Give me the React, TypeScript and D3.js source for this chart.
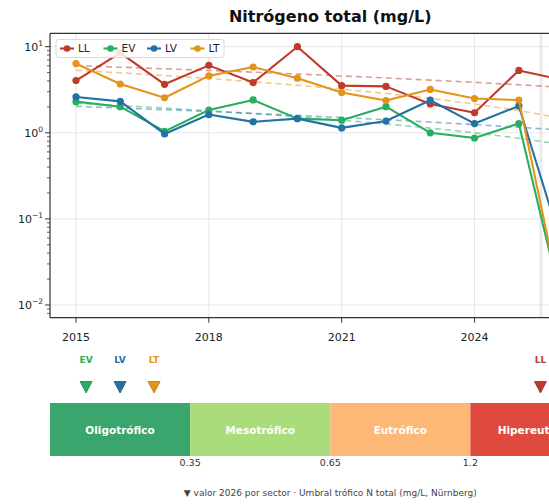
import React from 'react';
import * as d3 from 'd3';

const years = [2015, 2016, 2017, 2018, 2019, 2020, 2021, 2022, 2023, 2024, 2025, 2026];
const sectors = ['LL', 'EV', 'LV', 'LT'];
const LL = [4.04, 8.5, 3.66, 6.07, 3.83, 10.0, 3.53, 3.46, 2.16, 1.71, 5.3, 4.1];
const EV = [2.3, 2.01, 1.04, 1.84, 2.41, 1.46, 1.4, 2.01, 1.0, 0.87, 1.28, 0.009];
const LV = [2.61, 2.32, 0.97, 1.63, 1.34, 1.46, 1.14, 1.37, 2.39, 1.28, 2.05, 0.044];
const LT = [6.36, 3.69, 2.55, 4.58, 5.81, 4.31, 2.94, 2.37, 3.19, 2.5, 2.4, 0.0085];
const seriesValues = [LL, EV, LV, LT];
const colors = ['#c0392b', '#27ae60', '#2471a3', '#e39419'];
const darkColors = ['#922b21', '#1e8449', '#1a5276', '#b9770e'];
const xTicks = [2015, 2018, 2021, 2024];
const yTicks = [0.01, 0.1, 1, 10];
const yTickExp = ['\u22122', '\u22121', '0', '1'];
const bands = ['Oligotrófico', 'Mesotrófico', 'Eutrófico', 'Hipereutrófico'];
const thresholds = [0.35, 0.65, 1.2];
const bandColors = ['#3aa56c', '#abdc7c', '#fdb877', '#df4a3f'];
const markerYear = 2025.5;
const title = 'Nitrógeno total (mg/L)';
const footer = '\u25BC valor 2026 por sector \u00B7 Umbral trófico N total (mg/L, Nürnberg)';

const FONT = 'DejaVu Sans, sans-serif';

export default function App() {
  const W = 549;
  const H = 504;
  const m = { left: 50, right: 610.5, top: 33.3, bottom: 317.7 };
  const x = d3.scaleLinear().domain([2014.413, 2027.07]).range([m.left, m.right]);
  const y = d3.scaleLog().domain([0.00712, 14.31]).range([m.bottom, m.top]);

  const line = d3
    .line<[number, number]>()
    .defined((d) => d[1] > 0)
    .x((d) => x(d[0]))
    .y((d) => y(d[1]));

  const trend = (vals: number[]) => {
    const mx = d3.mean(years) as number;
    const my = d3.mean(vals) as number;
    const sxy = d3.sum(years, (yr, i) => (yr - mx) * (vals[i] - my));
    const sxx = d3.sum(years, (yr) => (yr - mx) * (yr - mx));
    const b = sxy / sxx;
    return years.map((yr) => [yr, my + b * (yr - mx)] as [number, number]);
  };

  const minorTicks: number[] = [];
  for (let e = -3; e <= 1; e++) {
    for (let k = 2; k <= 9; k++) {
      const v = k * Math.pow(10, e);
      if (v >= 0.00712 && v <= 14.31) minorTicks.push(v);
    }
  }

  // bottom panel
  const band = d3.scaleBand<string>().domain(bands).range([m.left, m.right]);
  const bandTop = 403;
  const bandH = 53;
  const bandIndex = (v: number) => d3.bisectRight(thresholds, v);
  const last = seriesValues.map((s) => s[s.length - 1]);
  const groups: number[][] = bands.map(() => []);
  last.forEach((v, i) => groups[bandIndex(v)].push(i));
  const markers: { i: number; cx: number }[] = [];
  groups.forEach((g, bi) => {
    const c = (band(bands[bi]) as number) + band.bandwidth() / 2;
    g.forEach((si, k) => markers.push({ i: si, cx: c + (k - (g.length - 1) / 2) * 34 }));
  });

  const legendX = 56;
  const legendItemW = 43.5;

  return (
    <svg
      width={W}
      height={H}
      style={{ position: 'absolute', left: 0, top: 0, background: '#fff' }}
      fontFamily={FONT}
    >
      <defs>
        <clipPath id="plotclip">
          <rect x={m.left} y={m.top} width={m.right - m.left} height={m.bottom - m.top} />
        </clipPath>
      </defs>
      <rect x={0} y={0} width={W} height={H} fill="#fff" />
      <text x={(m.left + m.right) / 2} y={22} textAnchor="middle" fontSize={16} fontWeight="bold" fill="#111">
        {title}
      </text>

      {/* grid */}
      <g stroke="#e4e4e4" strokeWidth={0.9}>
        {xTicks.map((t) => (
          <line key={'gx' + t} x1={x(t)} x2={x(t)} y1={m.top} y2={m.bottom} />
        ))}
        {yTicks.map((t) => (
          <line key={'gy' + t} x1={m.left} x2={m.right} y1={y(t)} y2={y(t)} />
        ))}
      </g>
      <line x1={x(markerYear)} x2={x(markerYear)} y1={m.top} y2={m.bottom} stroke="#d8d8d8" strokeWidth={3} opacity={0.5} />

      <g clipPath="url(#plotclip)">
        {seriesValues.map((vals, i) => (
          <path
            key={'t' + i}
            d={line(trend(vals)) || ''}
            fill="none"
            stroke={colors[i]}
            strokeOpacity={0.5}
            strokeWidth={1.6}
            strokeDasharray="6,4"
          />
        ))}
        {seriesValues.map((vals, i) => (
          <g key={'s' + i}>
            <path
              d={line(years.map((yr, j) => [yr, vals[j]] as [number, number])) || ''}
              fill="none"
              stroke={colors[i]}
              strokeWidth={2.1}
              strokeLinejoin="round"
            />
            {years.map((yr, j) => (
              <circle key={j} cx={x(yr)} cy={y(vals[j])} r={3.6} fill={colors[i]} />
            ))}
          </g>
        ))}
      </g>

      {/* axes frame */}
      <g stroke="#333" strokeWidth={1.2} fill="none">
        <line x1={m.left} x2={m.left} y1={m.top} y2={m.bottom} />
        <line x1={m.left} x2={m.right} y1={m.bottom} y2={m.bottom} />
        <line x1={m.left} x2={m.right} y1={m.top} y2={m.top} />
        <line x1={m.right} x2={m.right} y1={m.top} y2={m.bottom} />
      </g>
      {/* y ticks */}
      <g stroke="#333" strokeWidth={1}>
        {yTicks.map((t) => (
          <line key={'yt' + t} x1={m.left - 5} x2={m.left} y1={y(t)} y2={y(t)} />
        ))}
        {minorTicks.map((t) => (
          <line key={'ym' + t} x1={m.left - 3} x2={m.left} y1={y(t)} y2={y(t)} strokeWidth={0.8} />
        ))}
      </g>
      {yTicks.map((t, i) => (
        <text key={'yl' + t} x={m.left - 7} y={y(t) + 4} textAnchor="end" fontSize={11} fill="#222">
          10
          <tspan fontSize={7.5} dy={-5}>
            {yTickExp[i]}
          </tspan>
        </text>
      ))}
      {/* x ticks */}
      {xTicks.map((t) => (
        <g key={'xt' + t}>
          <line x1={x(t)} x2={x(t)} y1={m.bottom} y2={m.bottom + 5} stroke="#333" strokeWidth={1} />
          <text x={x(t)} y={m.bottom + 23} textAnchor="middle" fontSize={11} fill="#222">
            {t}
          </text>
        </g>
      ))}

      {/* legend */}
      <g>
        <rect x={legendX} y={39.5} width={168} height={18} rx={2.5} fill="#fff" fillOpacity={0.85} stroke="#d0d0d0" strokeWidth={0.8} />
        {sectors.map((s, i) => {
          const lx = legendX + 4 + i * legendItemW;
          return (
            <g key={'lg' + s}>
              <line x1={lx} x2={lx + 14} y1={48.5} y2={48.5} stroke={colors[i]} strokeWidth={2.1} />
              <circle cx={lx + 7} cy={48.5} r={3.3} fill={colors[i]} />
              <text x={lx + 18} y={52.3} fontSize={10.5} fill="#222">
                {s}
              </text>
            </g>
          );
        })}
      </g>

      {/* bottom panel */}
      {bands.map((b, i) => (
        <g key={'b' + b}>
          <rect x={band(b)} y={bandTop} width={band.bandwidth()} height={bandH} fill={bandColors[i]} />
          <text
            x={(band(b) as number) + band.bandwidth() / 2}
            y={bandTop + bandH / 2 + 4}
            textAnchor="middle"
            fontSize={10.5}
            fontWeight="bold"
            fill="#fff"
          >
            {b}
          </text>
        </g>
      ))}
      {thresholds.map((t, i) => (
        <text
          key={'th' + t}
          x={(band(bands[i + 1]) as number)}
          y={bandTop + bandH + 10}
          textAnchor="middle"
          fontSize={9.5}
          fill="#333"
        >
          {String(t)}
        </text>
      ))}
      {markers.map(({ i, cx }) => (
        <g key={'mk' + i}>
          <text x={cx} y={363} textAnchor="middle" fontSize={9} fontWeight="bold" fill={colors[i]}>
            {sectors[i]}
          </text>
          <path
            d={`M${cx - 6},${381.5} L${cx + 6},${381.5} L${cx},${393} Z`}
            fill={colors[i]}
            stroke={darkColors[i]}
            strokeWidth={0.8}
          />
        </g>
      ))}
      <text x={(m.left + m.right) / 2} y={496} textAnchor="middle" fontSize={9} fill="#444">
        {footer}
      </text>
    </svg>
  );
}
